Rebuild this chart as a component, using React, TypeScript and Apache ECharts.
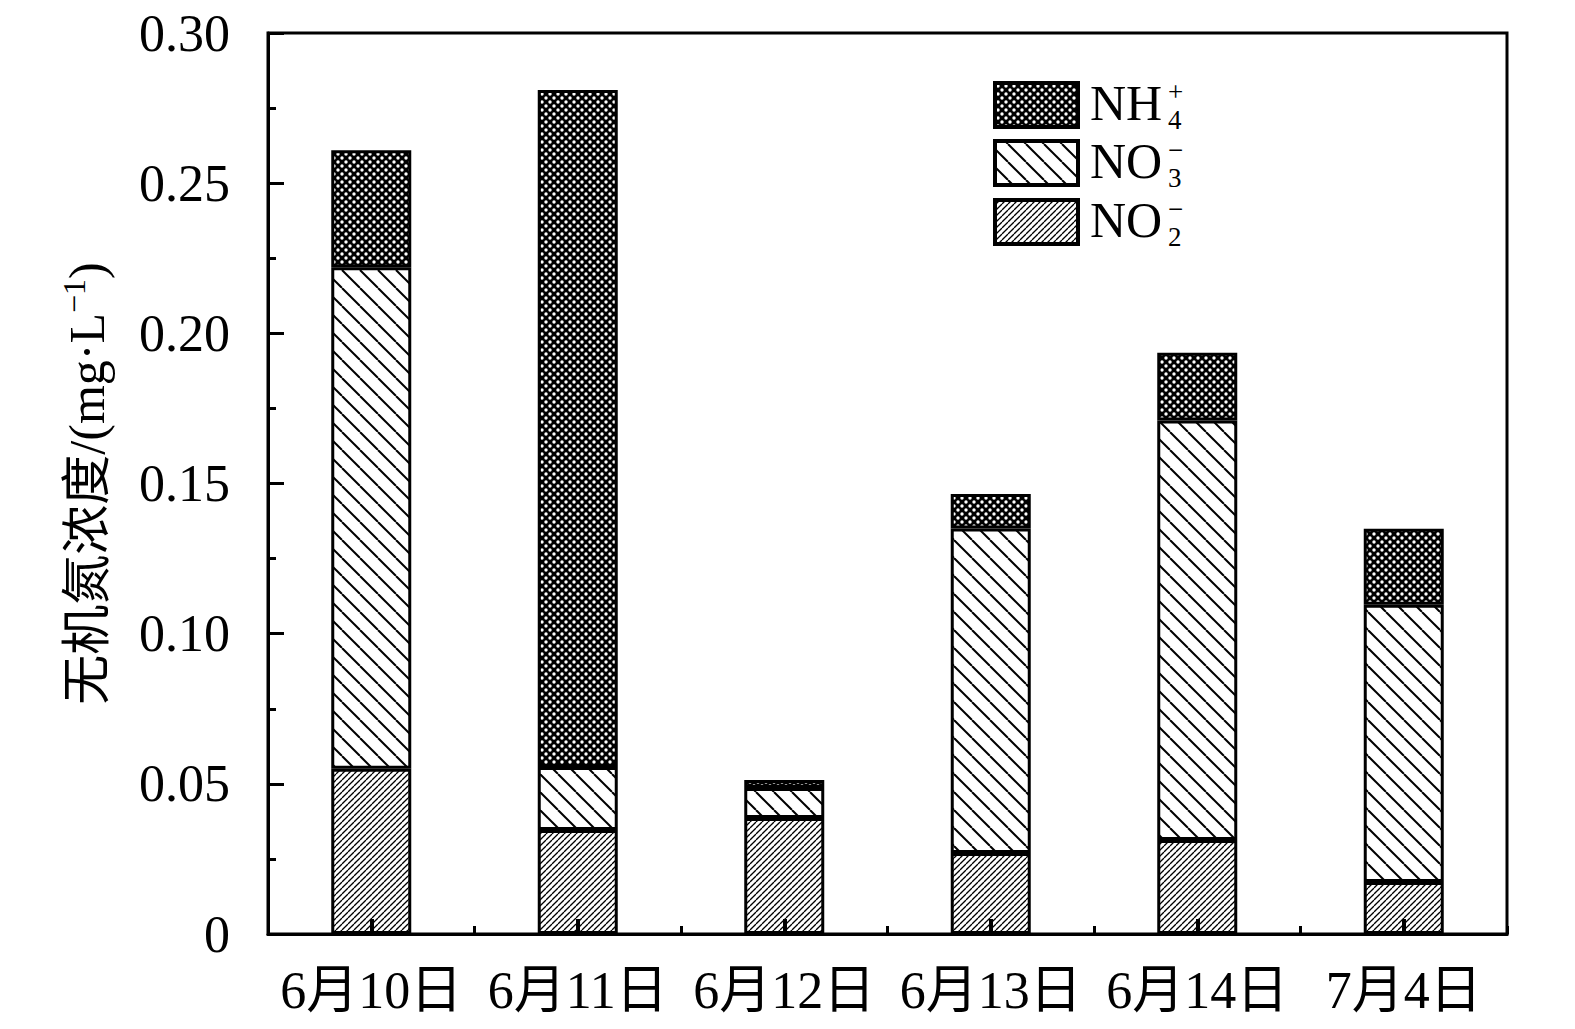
import React, { useEffect, useRef } from "react";
import * as echarts from "echarts";

const categories = ["6月10日", "6月11日", "6月12日", "6月13日", "6月14日", "7月4日"];
const no2Values = [0.055, 0.0346, 0.0386, 0.027, 0.0313, 0.0173];
const no3Values = [0.167, 0.021, 0.010, 0.108, 0.1397, 0.0923];
const nh4Values = [0.039, 0.2254, 0.0027, 0.0115, 0.0225, 0.0253];
const yTicks = [0, 0.05, 0.1, 0.15, 0.2, 0.25, 0.3];

const SERIF = "'Liberation Serif', 'Times New Roman', 'Noto Sans CJK SC', serif";

function makeCanvas(kind: string): HTMLCanvasElement {
  const c = document.createElement("canvas");
  if (kind === "nh4") {
    const T = 8;
    c.width = T;
    c.height = T;
    const g = c.getContext("2d")!;
    g.fillStyle = "#000";
    g.fillRect(0, 0, T, T);
    g.fillStyle = "#fff";
    g.beginPath();
    g.arc(2, 2, 1.7, 0, Math.PI * 2);
    g.fill();
    g.beginPath();
    g.arc(6, 6, 1.7, 0, Math.PI * 2);
    g.fill();
  } else if (kind === "no3") {
    const T = 18;
    c.width = T;
    c.height = T;
    const g = c.getContext("2d")!;
    g.fillStyle = "#fff";
    g.fillRect(0, 0, T, T);
    g.strokeStyle = "#000";
    g.lineWidth = 2;
    for (const off of [-T, 0, T]) {
      g.beginPath();
      g.moveTo(off, 0);
      g.lineTo(off + T, T);
      g.stroke();
    }
  } else {
    const T = 6;
    c.width = T;
    c.height = T;
    const g = c.getContext("2d")!;
    g.fillStyle = "#fff";
    g.fillRect(0, 0, T, T);
    g.strokeStyle = "#000";
    g.lineWidth = 1.3;
    for (const off of [-T, 0, T]) {
      g.beginPath();
      g.moveTo(off, T);
      g.lineTo(off + T, 0);
      g.stroke();
    }
  }
  return c;
}

export default function App() {
  const ref = useRef<HTMLDivElement>(null);
  useEffect(() => {
    if (!ref.current) return;
    const chart = echarts.init(ref.current, undefined, { renderer: "svg" });
    const canvases: Record<string, HTMLCanvasElement> = {
      nh4: makeCanvas("nh4"),
      no3: makeCanvas("no3"),
      no2: makeCanvas("no2"),
    };
    const pat = (k: string) => ({ image: canvases[k], repeat: "repeat" });

    const barStyle = (k: string) => ({
      color: pat(k),
      borderColor: "#000",
      borderWidth: 3,
    });

    const legendItems = [
      { key: "nh4", y: 83, sub: "4", sup: "+" },
      { key: "no3", y: 141, sub: "3", sup: "−" },
      { key: "no2", y: 200, sub: "2", sup: "−" },
    ];
    const legendGraphics: any[] = [];
    legendItems.forEach((it) => {
      const base = it.key === "nh4" ? "NH" : "NO";
      legendGraphics.push({
        type: "rect",
        shape: { x: 995, y: it.y, width: 83, height: 44 },
        style: { fill: pat(it.key), stroke: "#000", lineWidth: 4 },
        z: 10,
      });
      legendGraphics.push({
        type: "text",
        x: 1090,
        y: it.y + 20,
        style: { text: base, fontSize: 50, fontFamily: SERIF, fill: "#000", verticalAlign: "middle", align: "left" },
        z: 10,
      });
      legendGraphics.push({
        type: "text",
        x: 1168,
        y: it.y + 9,
        style: { text: it.sup, fontSize: 27, lineHeight: 27, fontFamily: SERIF, fill: "#000", verticalAlign: "middle", align: "left" },
        z: 10,
      });
      legendGraphics.push({
        type: "text",
        x: 1168,
        y: it.y + 37,
        style: { text: it.sub, fontSize: 27, lineHeight: 27, fontFamily: SERIF, fill: "#000", verticalAlign: "middle", align: "left" },
        z: 10,
      });
    });

    chart.setOption({
      animation: false,
      backgroundColor: "#fff",
      grid: {
        left: 268,
        right: 68,
        top: 33,
        bottom: 95,
        show: true,
        borderColor: "#000",
        borderWidth: 3,
        backgroundColor: "transparent",
      },
      xAxis: [
        {
          type: "category",
          data: categories,
          z: 5,
          axisLine: { show: true, lineStyle: { color: "#000", width: 3 } },
          axisTick: { show: true, inside: true, alignWithLabel: true, length: 15, lineStyle: { color: "#000", width: 4 } },
          axisLabel: { color: "#000", fontSize: 52, fontFamily: SERIF, margin: 30, interval: 0 },
          splitLine: { show: false },
        },
        {
          type: "category",
          data: categories,
          position: "bottom",
          z: 5,
          axisLine: { show: false },
          axisTick: { show: true, inside: true, length: 8, lineStyle: { color: "#000", width: 3 } },
          axisLabel: { show: false },
          splitLine: { show: false },
        },
      ],
      yAxis: {
        type: "value",
        min: yTicks[0],
        max: yTicks[yTicks.length - 1],
        interval: 0.05,
        z: 5,
        name: "{a|无机氮浓度/(mg·L}{sup|−1}{a|)}",
        nameLocation: "middle",
        nameGap: 152,
        nameTextStyle: {
          color: "#000",
          fontSize: 50,
          fontFamily: SERIF,
          rich: {
            a: { fontSize: 50, fontFamily: SERIF, color: "#000", lineHeight: 58 },
            sup: { fontSize: 32, fontFamily: SERIF, color: "#000", verticalAlign: "top", lineHeight: 58 },
          },
        },
        axisLine: { show: true, lineStyle: { color: "#000", width: 3 } },
        axisTick: { show: true, inside: true, length: 16, lineStyle: { color: "#000", width: 3 } },
        minorTick: { show: true, splitNumber: 2, length: 8, lineStyle: { color: "#000", width: 3 } },
        splitLine: { show: false },
        axisLabel: {
          color: "#000",
          fontSize: 52,
          fontFamily: SERIF,
          margin: 38,
          formatter: (v: number) => (v === 0 ? "0" : v.toFixed(2)),
        },
      },
      graphic: legendGraphics,
      series: [
        { name: "NO2-", type: "bar", stack: "n", data: no2Values, barWidth: 80, itemStyle: barStyle("no2") },
        { name: "NO3-", type: "bar", stack: "n", data: no3Values, barWidth: 80, itemStyle: barStyle("no3") },
        { name: "NH4+", type: "bar", stack: "n", data: nh4Values, barWidth: 80, itemStyle: barStyle("nh4") },
      ],
    });
    return () => chart.dispose();
  }, []);
  return (
    <div
      ref={ref}
      style={{ position: "fixed", left: 0, top: 0, width: 1575, height: 1029 }}
    />
  );
}
